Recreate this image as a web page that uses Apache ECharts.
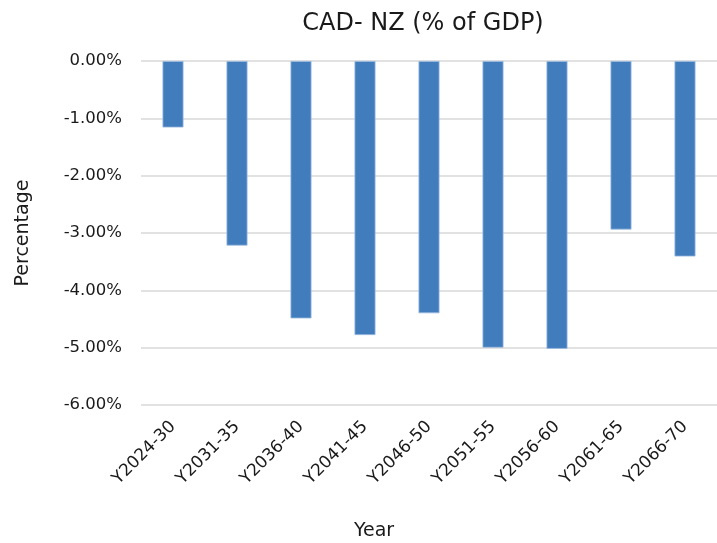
<!DOCTYPE html>
<html>
<head>
<meta charset="utf-8">
<script src="https://cdn.jsdelivr.net/npm/echarts@6/dist/echarts.min.js"></script>
<style>
  html, body { margin: 0; padding: 0; background: #ffffff; }
  #chart { width: 717px; height: 543px; }
</style>
</head>
<body>
<div id="chart"></div>
<script>
// Current account deficit, New Zealand, as a share of GDP (percent)
const categories = ['Y2024-30', 'Y2031-35', 'Y2036-40', 'Y2041-45', 'Y2046-50', 'Y2051-55', 'Y2056-60', 'Y2061-65', 'Y2066-70'];
const cadValues = [-1.16, -3.22, -4.49, -4.78, -4.40, -5.00, -5.02, -2.94, -3.41];
const yTicks = { min: -6, max: 0, step: 1 };

const FONT = '"DejaVu Sans", "Noto Sans", sans-serif';
const INK = '#1a1a1a';
const chart = echarts.init(document.getElementById('chart'), null, { renderer: 'canvas' });

chart.setOption({
  animation: false,
  backgroundColor: '#ffffff',
  title: [
    {
      text: 'CAD- NZ (% of GDP)',
      left: 418,
      top: 7,
      textAlign: 'center',
      textStyle: { fontFamily: FONT, fontSize: 24, fontWeight: 'normal', color: INK }
    },
    {
      text: 'Year',
      left: 369,
      top: 517,
      textAlign: 'center',
      textStyle: { fontFamily: FONT, fontSize: 19, fontWeight: 'normal', color: INK }
    }
  ],
  grid: { left: 141, top: 61, width: 584, height: 344, containLabel: false },
  xAxis: {
    type: 'category',
    data: categories,
    position: 'bottom',
    axisLine: { show: false },
    axisTick: { show: false },
    axisLabel: {
      rotate: 45,
      interval: 0,
      margin: 19,
      fontFamily: FONT,
      fontSize: 17,
      color: INK
    },
    splitLine: { show: false }
  },
  yAxis: {
    type: 'value',
    min: yTicks.min,
    max: yTicks.max,
    interval: yTicks.step,
    name: 'Percentage',
    nameLocation: 'middle',
    nameGap: 108,
    nameTextStyle: { fontFamily: FONT, fontSize: 19, color: INK },
    axisLine: { show: false },
    axisTick: { show: false },
    axisLabel: {
      margin: 19,
      fontFamily: FONT,
      fontSize: 16.5,
      color: INK,
      formatter: v => v.toFixed(2) + '%'
    },
    splitLine: { show: true, lineStyle: { color: '#d9d9d9', width: 1.5 } }
  },
  series: [
    {
      type: 'bar',
      data: cadValues,
      barWidth: 21,
      itemStyle: { color: '#417dbc', borderColor: '#9dbbe0', borderWidth: 0.8 }
    }
  ]
});
</script>
</body>
</html>
